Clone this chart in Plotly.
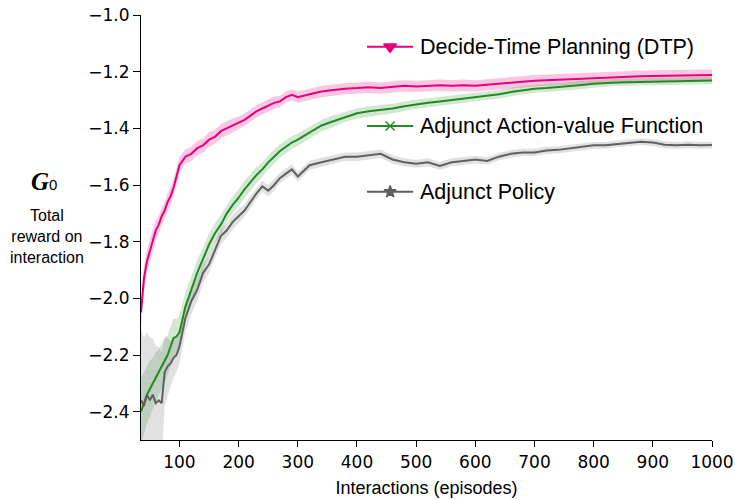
import plotly.graph_objects as go

# ---------------- data ----------------
episodes = [35, 40, 45, 50, 55, 60, 65, 70, 75, 80, 85, 90, 95, 100,
            110, 120, 130, 140, 150, 160, 170, 180, 190, 200, 210, 220, 230,
            240, 250, 260, 270, 280, 290, 300, 320, 340, 360, 380, 400, 420,
            440, 460, 480, 500, 520, 540, 560, 580, 600, 620, 640, 660, 680,
            700, 720, 740, 760, 780, 800, 820, 840, 860, 880, 900, 920, 940,
            960, 980, 1000]

dtp_mean = [-2.05, -1.93, -1.87, -1.83, -1.79, -1.76, -1.74, -1.71, -1.69, -1.66,
            -1.64, -1.61, -1.57, -1.53, -1.50, -1.49, -1.47, -1.46, -1.44, -1.43,
            -1.41, -1.40, -1.39, -1.38, -1.37, -1.355, -1.34, -1.33, -1.32, -1.31,
            -1.305, -1.29, -1.282, -1.29, -1.28, -1.27, -1.265, -1.26, -1.258, -1.255,
            -1.258, -1.253, -1.25, -1.252, -1.25, -1.248, -1.25, -1.248, -1.25, -1.246,
            -1.243, -1.24, -1.235, -1.232, -1.23, -1.228, -1.226, -1.225, -1.222, -1.22,
            -1.218, -1.217, -1.216, -1.215, -1.214, -1.214, -1.213, -1.213, -1.212]
dtp_err = [0.05, 0.045, 0.04, 0.04, 0.035, 0.035, 0.03, 0.03, 0.03, 0.03,
           0.03, 0.03, 0.03, 0.03, 0.025, 0.025, 0.025, 0.025, 0.025, 0.025,
           0.025, 0.025, 0.025, 0.022, 0.022, 0.022, 0.022, 0.022, 0.022, 0.022,
           0.02, 0.02, 0.02, 0.02, 0.02, 0.02, 0.02, 0.02, 0.02, 0.02,
           0.02, 0.02, 0.02, 0.02, 0.02, 0.02, 0.02, 0.02, 0.02, 0.02,
           0.02, 0.02, 0.02, 0.02, 0.02, 0.02, 0.02, 0.02, 0.02, 0.02,
           0.02, 0.02, 0.02, 0.02, 0.02, 0.02, 0.02, 0.02, 0.02]

aav_mean = [-2.40, -2.37, -2.34, -2.32, -2.30, -2.28, -2.26, -2.24, -2.22, -2.20,
            -2.17, -2.14, -2.135, -2.12, -2.03, -1.97, -1.91, -1.86, -1.81, -1.77,
            -1.74, -1.70, -1.67, -1.645, -1.615, -1.59, -1.565, -1.545, -1.52, -1.50,
            -1.48, -1.465, -1.45, -1.44, -1.415, -1.39, -1.375, -1.36, -1.347, -1.34,
            -1.335, -1.33, -1.322, -1.315, -1.31, -1.305, -1.30, -1.295, -1.29, -1.285,
            -1.28, -1.272, -1.265, -1.26, -1.258, -1.255, -1.25, -1.247, -1.243, -1.24,
            -1.238, -1.237, -1.236, -1.235, -1.234, -1.233, -1.232, -1.232, -1.231]
aav_err = [0.12, 0.11, 0.10, 0.10, 0.09, 0.09, 0.08, 0.08, 0.08, 0.07,
           0.07, 0.07, 0.06, 0.06, 0.05, 0.05, 0.045, 0.04, 0.04, 0.035,
           0.035, 0.03, 0.03, 0.03, 0.03, 0.028, 0.028, 0.026, 0.025, 0.025,
           0.024, 0.024, 0.022, 0.022, 0.02, 0.02, 0.02, 0.018, 0.018, 0.018,
           0.018, 0.017, 0.017, 0.017, 0.016, 0.016, 0.016, 0.015, 0.015, 0.015,
           0.015, 0.015, 0.015, 0.014, 0.014, 0.014, 0.014, 0.014, 0.014, 0.013,
           0.013, 0.013, 0.013, 0.013, 0.013, 0.013, 0.013, 0.013, 0.013]

pol_mean = [-2.36, -2.38, -2.34, -2.36, -2.34, -2.37, -2.36, -2.37, -2.26, -2.24,
            -2.23, -2.21, -2.20, -2.17, -2.07, -2.01, -1.97, -1.91, -1.88, -1.83,
            -1.78, -1.76, -1.73, -1.71, -1.69, -1.66, -1.63, -1.605, -1.62, -1.60,
            -1.575, -1.56, -1.545, -1.57, -1.53, -1.52, -1.51, -1.50, -1.50, -1.495,
            -1.49, -1.51, -1.52, -1.525, -1.52, -1.533, -1.52, -1.515, -1.51, -1.515,
            -1.50, -1.49, -1.485, -1.485, -1.478, -1.476, -1.47, -1.465, -1.46, -1.46,
            -1.455, -1.45, -1.447, -1.45, -1.458, -1.46, -1.458, -1.46, -1.459]
pol_err = [0.25, 0.24, 0.22, 0.22, 0.2, 0.2, 0.19, 0.18, 0.12, 0.1,
           0.08, 0.07, 0.06, 0.06, 0.05, 0.045, 0.04, 0.035, 0.03, 0.03,
           0.028, 0.026, 0.025, 0.025, 0.022, 0.022, 0.02, 0.02, 0.02, 0.02,
           0.018, 0.018, 0.018, 0.017, 0.016, 0.016, 0.015, 0.015, 0.015, 0.015,
           0.015, 0.015, 0.014, 0.014, 0.014, 0.014, 0.014, 0.014, 0.013, 0.013,
           0.013, 0.013, 0.013, 0.013, 0.013, 0.013, 0.012, 0.012, 0.012, 0.012,
           0.012, 0.012, 0.012, 0.012, 0.012, 0.012, 0.012, 0.012, 0.012]

series_names = ["Decide-Time Planning (DTP)", "Adjunct Action-value Function", "Adjunct Policy"]
x_ticks = [100, 200, 300, 400, 500, 600, 700, 800, 900, 1000]
y_ticks = [-2.4, -2.2, -2.0, -1.8, -1.6, -1.4, -1.2, -1.0]

# ---------------- style ----------------
line_colors = ["#e6007e", "#228b22", "#606060"]
band_colors = ["rgba(230,0,126,0.22)", "rgba(34,139,34,0.20)", "rgba(128,128,128,0.24)"]
markers = ["triangle-down", "x-thin", "star"]
TEXT_FONT = "Liberation Sans, Arial, sans-serif"
TICK_FONT = "DejaVu Sans, sans-serif"

fig = go.Figure()
means = [dtp_mean, aav_mean, pol_mean]
errs = [dtp_err, aav_err, pol_err]

for m, e, bc in zip(means, errs, band_colors):
    upper = [a + b for a, b in zip(m, e)]
    lower = [a - b for a, b in zip(m, e)]
    fig.add_trace(go.Scatter(x=episodes, y=upper, mode="lines", line=dict(width=0),
                             showlegend=False, hoverinfo="skip"))
    fig.add_trace(go.Scatter(x=episodes, y=lower, mode="lines", line=dict(width=0),
                             fill="tonexty", fillcolor=bc, showlegend=False, hoverinfo="skip"))

for m, name, lc in zip(means, series_names, line_colors):
    fig.add_trace(go.Scatter(x=episodes, y=m, mode="lines", name=name,
                             line=dict(color=lc, width=2), showlegend=False))

# inline legend (key samples + labels)
legend_y = [-1.112, -1.392, -1.624]
key_x = [417, 495]
for ly, name, lc, mk in zip(legend_y, series_names, line_colors, markers):
    fig.add_trace(go.Scatter(x=key_x, y=[ly, ly], mode="lines",
                             line=dict(color=lc, width=2), showlegend=False,
                             hoverinfo="skip", cliponaxis=False))
    msize = 11 if mk == "triangle-down" else (9 if mk == "x-thin" else 9)
    fig.add_trace(go.Scatter(x=[(key_x[0] + key_x[1]) / 2], y=[ly], mode="markers",
                             marker=dict(symbol=mk, size=msize, color=lc,
                                         line=dict(color=lc, width=1.5)),
                             showlegend=False, hoverinfo="skip", cliponaxis=False))
    fig.add_annotation(x=503, y=ly, xref="x", yref="y", text=name, showarrow=False,
                       xanchor="left", yanchor="middle",
                       font=dict(family=TEXT_FONT, size=21.5, color="black"))

fig.update_layout(
    width=735, height=500,
    margin=dict(l=141, r=23, t=15, b=60, autoexpand=False),
    plot_bgcolor="white", paper_bgcolor="white",
    showlegend=False,
    xaxis=dict(range=[35, 1000], tickvals=x_ticks, ticks="outside", ticklen=6,
               tickwidth=1.2, tickcolor="black", showline=True, linecolor="black",
               linewidth=1.2, showgrid=False, zeroline=False, automargin=False,
               tickfont=dict(family=TICK_FONT, size=17, color="black"),
               title=dict(text="Interactions (episodes)",
                          font=dict(family=TEXT_FONT, size=18, color="black"),
                          standoff=10)),
    yaxis=dict(range=[-2.5, -1.0], tickvals=y_ticks, tickformat=".1f", ticks="outside",
               ticklen=7, tickwidth=1.2, tickcolor="black", showline=True,
               linecolor="black", linewidth=1.2, showgrid=False, zeroline=False,
               automargin=False,
               tickfont=dict(family=TICK_FONT, size=17, color="black")),
)

# y label: G0 and description, positioned in paper coords relative to plot area
def px_to_paper(px, py):
    return (px - 141) / 571, (440 - py) / 425

gx, gy = px_to_paper(44, 181)
fig.add_annotation(x=gx, y=gy, xref="paper", yref="paper", showarrow=False,
                   text="<b><i>G</i></b><span style='font-family:Liberation Sans;font-size:15px'>0</span>",
                   font=dict(family="Liberation Serif, Times New Roman, serif", size=25, color="black"),
                   xanchor="center", yanchor="middle")
tx, ty = px_to_paper(47, 236)
fig.add_annotation(x=tx, y=ty, xref="paper", yref="paper", showarrow=False,
                   text="Total<br>reward on<br>interaction",
                   font=dict(family=TEXT_FONT, size=16, color="black"),
                   xanchor="center", yanchor="middle", align="center")

fig.write_html("out.html")
